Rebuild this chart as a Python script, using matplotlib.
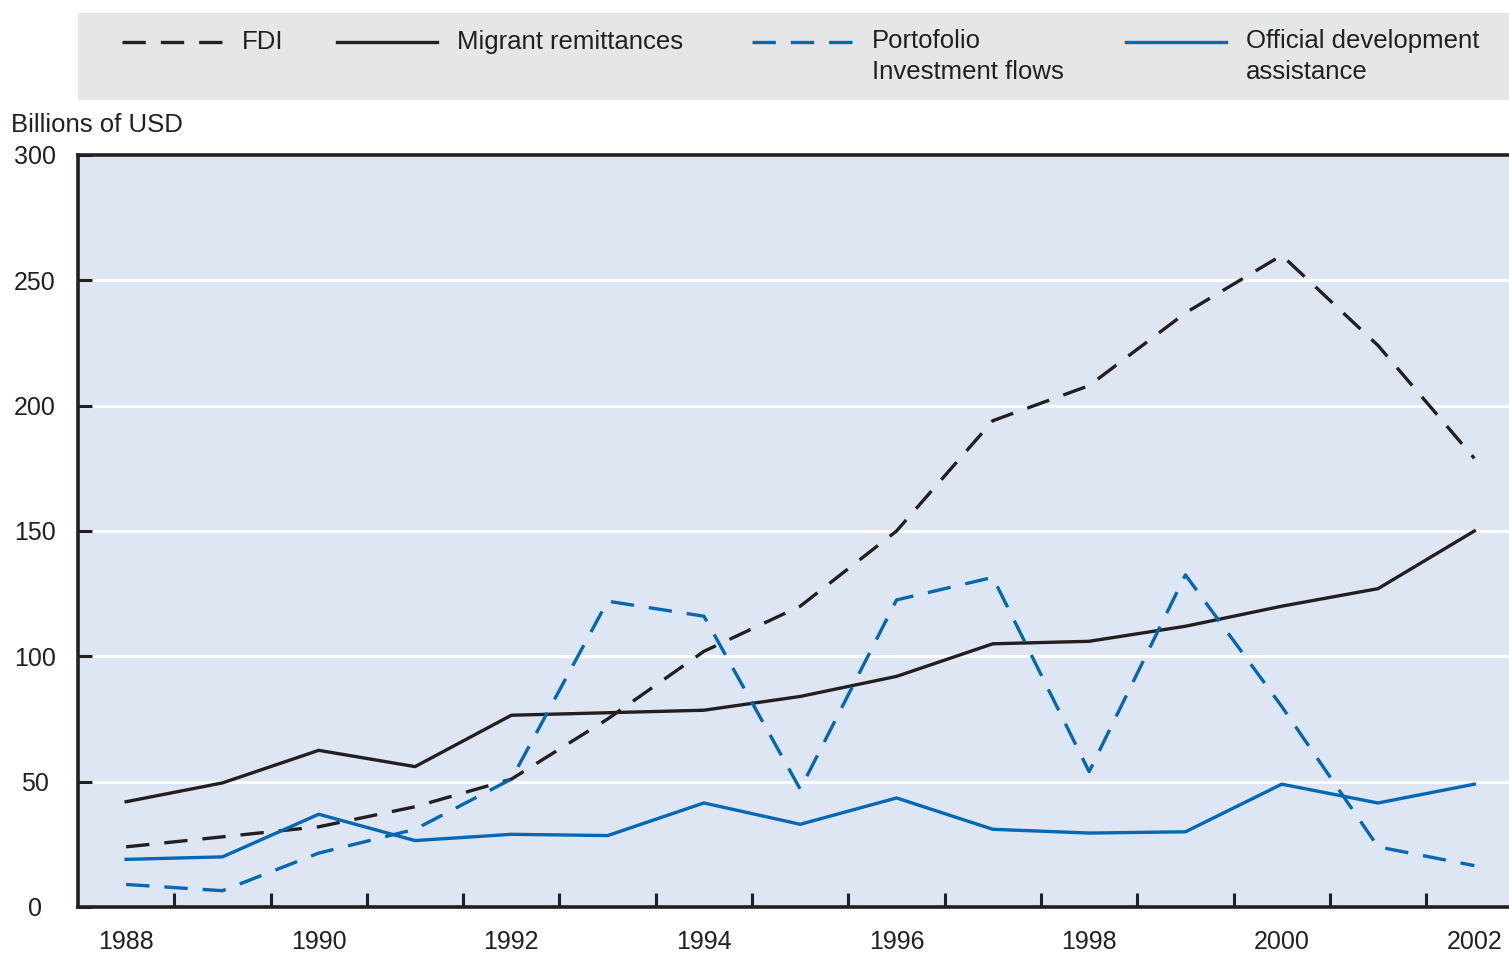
import matplotlib
matplotlib.use("Agg")
import matplotlib.pyplot as plt
import numpy as np

plt.rcParams['font.family'] = ['Liberation Sans', 'DejaVu Sans']

# values in billions of USD
years = np.arange(1988, 2003)
fdi = [24, 28, 32, 40, 51, 75, 102, 120, 150, 194, 208, 237, 260, 224, 179]
remittances = [42, 49.5, 62.5, 56, 76.5, 77.5, 78.5, 84, 92, 105, 106, 112, 120, 127, 150]
portfolio = [9, 6.5, 21.5, 31, 51, 122, 116, 47, 122.5, 131.5, 54, 132.5, 80, 24, 16.5]
oda = [19, 20, 37, 26.5, 29, 28.5, 41.5, 33, 43.5, 31, 29.5, 30, 49, 41.5, 49]

labels = ['FDI', 'Migrant remittances', 'Portofolio\nInvestment flows',
          'Official development\nassistance']
yticks = [0, 50, 100, 150, 200, 250, 300]
xlabels = years[::2]

black = '#231f20'
blue = '#0068b4'
dash = (0, (7, 4.5))
styles = [(black, dash), (black, '-'), (blue, dash), (blue, '-')]
lw = 2.4

W, H = 1509, 956
fig = plt.figure(figsize=(W / 100, H / 100), dpi=100)
ax = fig.add_axes([78 / W, 1 - 907 / H, (W - 78) / W, (907 - 155) / H])
ax.set_facecolor('#dfe6f3')

for vals, (c, ls) in zip([fdi, remittances, portfolio, oda], styles):
    ax.plot(years, vals, color=c, linestyle=ls, linewidth=lw, zorder=3)

ax.set_ylim(0, 300)
ax.set_xlim(1987.5, 2002.36)
ax.set_yticks(yticks)
for y in yticks[1:-1]:
    ax.axhline(y, color='white', linewidth=2.2, zorder=1)

ax.set_xticks(xlabels)
ax.set_xticks(np.arange(1988.5, 2002, 1), minor=True)
ax.tick_params(axis='x', which='major', length=0, pad=16.5, labelsize=18, labelcolor=black)
ax.tick_params(axis='x', which='minor', direction='in', length=10, width=2.2, color=black)
ax.tick_params(axis='y', direction='in', length=10, width=2.2, color=black, pad=31,
               labelsize=18, labelcolor=black)
for t in ax.get_yticklabels():
    t.set_horizontalalignment('center')

for s in ['left', 'bottom', 'top']:
    ax.spines[s].set_linewidth(2.6)
    ax.spines[s].set_color(black)
ax.spines['right'].set_visible(False)

fig.text(11 / W, 1 - 125 / H, 'Billions of USD', fontsize=18.5, ha='left', va='center',
         color=black)

# legend strip
leg = fig.add_axes([78 / W, 1 - 100 / H, (W - 78) / W, 87 / H])
leg.set_facecolor('#e5e6e8')
leg.set_xlim(78, W)
leg.set_ylim(100, 13)
leg.set_xticks([])
leg.set_yticks([])
for s in leg.spines.values():
    s.set_visible(False)

handle_x = [122, 337, 752, 1126]
for x0, lab, (c, ls) in zip(handle_x, labels, styles):
    leg.plot([x0, x0 + 100], [42, 42], color=c, linestyle=ls, linewidth=lw)
    if '\n' in lab:
        leg.text(x0 + 120, 29, lab, fontsize=18.5, va='top', ha='left', color=black,
                 linespacing=1.35)
    else:
        leg.text(x0 + 120, 42, lab, fontsize=18.5, va='center', ha='left', color=black)

fig.savefig('out.png', dpi=100)
